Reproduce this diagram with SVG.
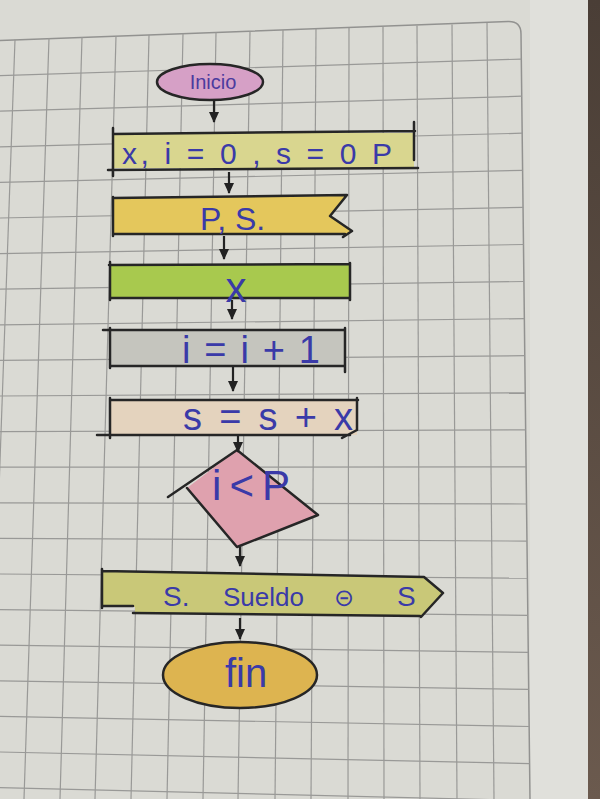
<svg xmlns="http://www.w3.org/2000/svg" width="600" height="799" viewBox="0 0 600 799">
<defs>
<style>
.ink{stroke:#262626;stroke-width:2.5;fill:none;stroke-linecap:round;stroke-linejoin:round}
.grid line{stroke:#999997;stroke-width:1.2}
.txt{font-family:"Liberation Sans",Arial,sans-serif;fill:#3a3aa8}
.conn{stroke:#222;stroke-width:2.2;fill:none}
</style>
<marker id="ah" markerUnits="userSpaceOnUse" markerWidth="12" markerHeight="10" refX="10" refY="5" orient="auto">
<path d="M0,0 L11,5 L0,10 Z" fill="#222"/>
</marker>
<linearGradient id="edge" x1="0" y1="0" x2="0" y2="1">
<stop offset="0" stop-color="#4a3e36"/>
<stop offset="1" stop-color="#6b5a4e"/>
</linearGradient>
</defs>

<g id="paper">
<rect x="0" y="0" width="600" height="799" fill="#dadad4"/>
<rect x="530" y="0" width="60" height="799" fill="#e0e0db"/>
<rect x="588" y="0" width="12" height="799" fill="url(#edge)"/>
</g>

<g class="grid" id="grid">
<path d="M0,40.5 L508,21.5 Q521,21 521,34 L530,799" stroke="#929290" stroke-width="1.5" fill="none"/>
<line x1="15" y1="39.5" x2="-12" y2="799"/>
<line x1="49" y1="38" x2="24" y2="799"/>
<line x1="82" y1="37" x2="60" y2="799"/>
<line x1="116" y1="36" x2="95" y2="799"/>
<line x1="149" y1="35" x2="131" y2="799"/>
<line x1="183" y1="33.7" x2="167" y2="799"/>
<line x1="216" y1="32.5" x2="203" y2="799"/>
<line x1="250" y1="31.3" x2="238" y2="799"/>
<line x1="283" y1="30" x2="275" y2="799"/>
<line x1="316" y1="29" x2="311" y2="799"/>
<line x1="349" y1="28" x2="348" y2="799"/>
<line x1="383" y1="26.8" x2="384" y2="799"/>
<line x1="417" y1="25.6" x2="420" y2="799"/>
<line x1="452" y1="24.4" x2="457" y2="799"/>
<line x1="487" y1="23" x2="494" y2="799"/>
<line x1="0" y1="75.6" x2="521.4" y2="59.1"/>
<line x1="0" y1="111.2" x2="521.9" y2="96.2"/>
<line x1="0" y1="146.8" x2="522.3" y2="133.2"/>
<line x1="0" y1="182.4" x2="522.7" y2="170.3"/>
<line x1="0" y1="218" x2="523.1" y2="207.4"/>
<line x1="0" y1="253.6" x2="523.6" y2="244.5"/>
<line x1="0" y1="289.2" x2="524" y2="281.5"/>
<line x1="0" y1="324.8" x2="524.4" y2="318.6"/>
<line x1="0" y1="360.4" x2="524.9" y2="355.7"/>
<line x1="0" y1="396" x2="525.3" y2="392.8"/>
<line x1="0" y1="431.6" x2="525.7" y2="429.9"/>
<line x1="0" y1="467.2" x2="526.1" y2="466.9"/>
<line x1="0" y1="502.8" x2="526.6" y2="504"/>
<line x1="0" y1="538.4" x2="527" y2="541.1"/>
<line x1="0" y1="574" x2="527.4" y2="578.2"/>
<line x1="0" y1="609.6" x2="527.9" y2="615.3"/>
<line x1="0" y1="645.2" x2="528.3" y2="652.3"/>
<line x1="0" y1="680.8" x2="528.7" y2="689.4"/>
<line x1="0" y1="716.4" x2="529.2" y2="726.5"/>
<line x1="0" y1="752" x2="529.6" y2="763.6"/>
<line x1="0" y1="787.6" x2="530" y2="800.6"/>
</g>

<g id="n-inicio">
<ellipse cx="210" cy="82" rx="53" ry="18" class="ink" style="fill:#d6a0c6"/>
<text class="txt" x="213" y="89" font-size="20" text-anchor="middle" style="fill:#4b3b9e">Inicio</text>
</g>

<g id="n-init">
<rect x="114" y="133" width="300" height="35" fill="#d9d68f"/>
<path class="ink" d="M113,128 V176 M113,134 L415,131 M108,170 L418,168 M414,122 V160"/>
<text class="txt" x="122" y="164" font-size="30" textLength="270" lengthAdjust="spacing">x, i = 0 , s = 0 P</text>
</g>

<g id="n-read">
<path d="M113,198 L346,196 L331,216 L352,231 L345,235 L113,235 Z" fill="#e4c75c"/>
<path class="ink" d="M113,197 V236 M113,198 L347,195 L330,216 L352,231 L343,237 M113,234 L345,234"/>
<text class="txt" x="200" y="230" font-size="32">P, S.</text>
</g>

<g id="n-x">
<rect x="110" y="265" width="240" height="33" fill="#a8c94e"/>
<path class="ink" d="M109,265 L350,264 M110,262 V300 M110,298 L350,298 M350,263 V300"/>
<text class="txt" x="236" y="302" font-size="42" text-anchor="middle">x</text>
</g>

<g id="n-inc">
<rect x="110" y="330" width="235" height="36" fill="#c5c5be"/>
<path class="ink" d="M103,330 L345,330 M110,328 V368 M110,366 L345,366 M345,328 V372"/>
<text class="txt" x="182" y="363" font-size="38" textLength="138" lengthAdjust="spacing">i = i + 1</text>
</g>

<g id="n-sum">
<rect x="110" y="400" width="247" height="35" fill="#e4d3be"/>
<path class="ink" d="M110,400 L358,400 M110,398 V438 M97,435 L350,435 M357,398 V430 L342,438"/>
<text class="txt" x="183" y="430" font-size="38" textLength="170" lengthAdjust="spacing">s = s + x</text>
</g>

<g id="n-cond">
<path d="M237,450 L318,515 L237,547 L187,488 Z" fill="#dfa1ae"/>
<path class="ink" d="M237,450 L168,497 M237,450 L318,515 L237,547 L187,488"/>
<text class="txt" x="212" y="500" font-size="42" textLength="78" lengthAdjust="spacing">i &lt; P</text>
</g>

<g id="n-out">
<path d="M102,571 L424,578 L443,593 L421,616 L135,613 L135,607 L102,607 Z" fill="#c9c878"/>
<path class="ink" d="M102,569 V608 M102,606 L133,606 M102,571 L424,577 L443,593 L421,617 M133,613 L420,616"/>
<text class="txt" font-size="28" y="606"><tspan x="163">S.</tspan><tspan x="223" font-size="26">Sueldo</tspan><tspan x="334" font-family="DejaVu Sans" font-size="24">⊝</tspan><tspan x="397">S</tspan></text>
</g>

<g id="n-fin">
<ellipse cx="240" cy="675" rx="77" ry="33" class="ink" style="fill:#ddb450"/>
<text class="txt" x="246" y="687" font-size="40" text-anchor="middle">fin</text>
</g>

<g id="connectors">
<line class="conn" x1="214" y1="100" x2="214" y2="122" marker-end="url(#ah)"/>
<line class="conn" x1="229" y1="172" x2="229" y2="193" marker-end="url(#ah)"/>
<line class="conn" x1="224" y1="236" x2="224" y2="259" marker-end="url(#ah)"/>
<line class="conn" x1="232" y1="300" x2="232" y2="319" marker-end="url(#ah)"/>
<line class="conn" x1="233" y1="367" x2="233" y2="391" marker-end="url(#ah)"/>
<line class="conn" x1="238" y1="436" x2="238" y2="452" marker-end="url(#ah)"/>
<line class="conn" x1="240" y1="547" x2="240" y2="566" marker-end="url(#ah)"/>
<line class="conn" x1="240" y1="618" x2="240" y2="639" marker-end="url(#ah)"/>
</g>
</svg>
